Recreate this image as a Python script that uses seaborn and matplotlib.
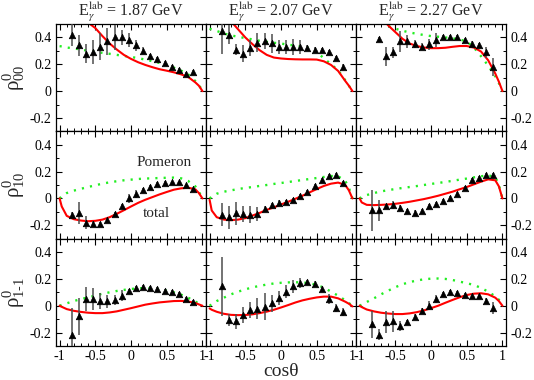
import numpy as np
import pandas as pd
import matplotlib
matplotlib.use("Agg")
import matplotlib.pyplot as plt
from matplotlib.ticker import MultipleLocator, FuncFormatter
import seaborn as sns

# photon energies (columns) and spin density matrix elements (rows)
ENERGIES = ["1.87", "2.07", "2.27"]
ELEMENTS = ["00", "10", "1-1"]
YLABELS = [r"$\mathregular{ρ^{0}_{00}}$", r"$\mathregular{ρ^{0}_{10}}$",
           r"$\mathregular{ρ^{0}_{1\text{-}1}}$"]

# cos(theta) bins of the data points
COS_18 = [-0.83, -0.73, -0.63, -0.53, -0.43, -0.33, -0.23, -0.13, -0.03,
          0.07, 0.17, 0.27, 0.37, 0.47, 0.57, 0.67, 0.77, 0.87]
COS_17 = COS_18[1:]

# data points (value, error)
d00_187 = [0.42, 0.34, 0.28, 0.29, 0.33, 0.37, 0.40, 0.40, 0.38, 0.34, 0.30, 0.26, 0.24, 0.21, 0.18, 0.16, 0.13, 0.14]
e00_187 = [0.087, 0.075, 0.07, 0.09, 0.1, 0.1, 0.09, 0.055, 0.05, 0.04, 0.025, 0.02, 0.015, 0.015, 0.015, 0.015, 0.015, 0.015]
d00_207 = [0.45, 0.42, 0.31, 0.28, 0.32, 0.36, 0.375, 0.355, 0.33, 0.33, 0.33, 0.33, 0.32, 0.31, 0.305, 0.29, 0.245, 0.18]
e00_207 = [0.17, 0.07, 0.04, 0.06, 0.06, 0.07, 0.06, 0.07, 0.05, 0.05, 0.06, 0.05, 0.02, 0.02, 0.015, 0.015, 0.015, 0.02]
d00_227 = [0.39, 0.26, 0.29, 0.37, 0.37, 0.35, 0.33, 0.35, 0.38, 0.40, 0.40, 0.40, 0.38, 0.35, 0.34, 0.29, 0.18]
e00_227 = [0.01, 0.07, 0.04, 0.08, 0.05, 0.03, 0.025, 0.04, 0.05, 0.02, 0.015, 0.015, 0.015, 0.02, 0.02, 0.04, 0.07]

d10_187 = [-0.12, -0.11, -0.18, -0.19, -0.19, -0.16, -0.115, -0.06, 0.0, 0.035, 0.06, 0.085, 0.11, 0.117, 0.122, 0.122, 0.10, 0.07]
e10_187 = [0.02, 0.08, 0.05, 0.02, 0.015, 0.015, 0.015, 0.02, 0.035, 0.03, 0.015, 0.015, 0.01, 0.01, 0.01, 0.01, 0.01, 0.01]
d10_207 = [-0.12, -0.14, -0.11, -0.115, -0.12, -0.115, -0.077, -0.052, -0.032, -0.027, -0.015, 0.015, 0.048, 0.092, 0.134, 0.17, 0.177, 0.117]
e10_207 = [0.085, 0.085, 0.085, 0.06, 0.06, 0.05, 0.02, 0.02, 0.02, 0.015, 0.015, 0.015, 0.015, 0.015, 0.015, 0.015, 0.015, 0.015]
d10_227 = [-0.09, -0.09, -0.06, -0.052, -0.072, -0.097, -0.107, -0.097, -0.06, -0.04, -0.022, 0.0, 0.035, 0.08, 0.14, 0.155, 0.177, 0.175]
e10_227 = [0.15, 0.08, 0.02, 0.03, 0.02, 0.02, 0.02, 0.02, 0.02, 0.015, 0.015, 0.015, 0.015, 0.015, 0.015, 0.015, 0.015, 0.015]

d1m1_187 = [-0.215, -0.08, 0.05, 0.05, 0.037, 0.032, 0.042, 0.075, 0.112, 0.132, 0.142, 0.13, 0.122, 0.112, 0.10, 0.087, 0.05, 0.03]
e1m1_187 = [0.2, 0.14, 0.09, 0.08, 0.06, 0.05, 0.04, 0.04, 0.015, 0.015, 0.015, 0.015, 0.015, 0.015, 0.015, 0.015, 0.015, 0.015]
d1m1_207 = [0.145, -0.105, -0.117, -0.07, -0.032, -0.022, -0.007, 0.017, 0.057, 0.104, 0.144, 0.17, 0.174, 0.162, 0.125, 0.05, -0.02, -0.05]
e1m1_207 = [0.22, 0.045, 0.055, 0.06, 0.06, 0.08, 0.1, 0.065, 0.05, 0.05, 0.05, 0.04, 0.02, 0.02, 0.02, 0.04, 0.03, 0.03]
d1m1_227 = [-0.137, -0.215, -0.12, -0.117, -0.15, -0.124, -0.082, -0.037, 0.0, 0.05, 0.087, 0.1, 0.092, 0.082, 0.075, 0.075, 0.037, -0.02]
e1m1_227 = [0.1, 0.04, 0.08, 0.08, 0.04, 0.02, 0.02, 0.02, 0.035, 0.03, 0.015, 0.015, 0.015, 0.015, 0.015, 0.015, 0.02, 0.045]

# model curves: total (red) and Pomeron (green), read on this cos grid
GRID = [-1.0, -0.97, -0.9, -0.8, -0.7, -0.6, -0.5, -0.4, -0.3, -0.2, -0.1, 0.0,
        0.1, 0.2, 0.3, 0.4, 0.5, 0.6, 0.7, 0.8, 0.9, 0.95, 1.0]

tot00_187 = [0.9, 0.85, 0.78, 0.68, 0.58, 0.51, 0.47, 0.41, 0.355, 0.31, 0.27, 0.24, 0.215, 0.195, 0.178, 0.163, 0.152, 0.14, 0.125, 0.105, 0.065, 0.04, 0.0]
pom00_187 = [0.335, 0.333, 0.325, 0.318, 0.31, 0.30, 0.292, 0.285, 0.278, 0.27, 0.262, 0.255, 0.245, 0.235, 0.223, 0.21, 0.193, 0.175, 0.153, 0.125, 0.075, 0.045, 0.005]
tot00_207 = [0.77, 0.74, 0.68, 0.6, 0.52, 0.46, 0.40, 0.35, 0.305, 0.27, 0.25, 0.243, 0.239, 0.237, 0.236, 0.236, 0.235, 0.222, 0.195, 0.15, 0.075, 0.04, 0.0]
pom00_207 = [0.465, 0.46, 0.448, 0.43, 0.415, 0.405, 0.395, 0.385, 0.375, 0.367, 0.36, 0.355, 0.345, 0.34, 0.333, 0.32, 0.29, 0.245, 0.2, 0.155, 0.08, 0.04, 0.0]
tot00_227 = [0.85, 0.82, 0.74, 0.64, 0.55, 0.49, 0.44, 0.39, 0.355, 0.336, 0.325, 0.32, 0.32, 0.323, 0.33, 0.336, 0.336, 0.325, 0.295, 0.23, 0.13, 0.07, 0.0]
pom00_227 = [0.6, 0.59, 0.565, 0.535, 0.51, 0.485, 0.465, 0.45, 0.437, 0.427, 0.418, 0.41, 0.405, 0.40, 0.393, 0.385, 0.37, 0.325, 0.26, 0.19, 0.11, 0.06, 0.0]

tot10_187 = [0.0, -0.06, -0.13, -0.155, -0.165, -0.17, -0.167, -0.158, -0.14, -0.115, -0.088, -0.06, -0.033, -0.01, 0.01, 0.03, 0.048, 0.065, 0.075, 0.08, 0.068, 0.04, 0.0]
pom10_187 = [0.0, 0.015, 0.04, 0.058, 0.072, 0.085, 0.098, 0.11, 0.12, 0.128, 0.135, 0.14, 0.145, 0.148, 0.15, 0.152, 0.154, 0.155, 0.15, 0.13, 0.09, 0.05, 0.0]
tot10_207 = [-0.01, -0.09, -0.14, -0.158, -0.162, -0.158, -0.147, -0.128, -0.108, -0.085, -0.067, -0.045, -0.025, -0.003, 0.02, 0.045, 0.07, 0.093, 0.11, 0.118, 0.1, 0.06, 0.0]
pom10_207 = [0.0, 0.012, 0.035, 0.05, 0.06, 0.07, 0.078, 0.085, 0.093, 0.10, 0.108, 0.115, 0.122, 0.13, 0.137, 0.145, 0.152, 0.16, 0.167, 0.165, 0.13, 0.08, 0.0]
tot10_227 = [0.0, -0.03, -0.048, -0.05, -0.048, -0.045, -0.04, -0.033, -0.025, -0.015, -0.005, 0.007, 0.02, 0.035, 0.05, 0.068, 0.085, 0.105, 0.125, 0.142, 0.135, 0.09, 0.0]
pom10_227 = [0.0, 0.01, 0.025, 0.04, 0.052, 0.062, 0.07, 0.078, 0.085, 0.092, 0.1, 0.108, 0.115, 0.123, 0.131, 0.14, 0.148, 0.157, 0.165, 0.172, 0.16, 0.1, 0.0]

tot1m1_187 = [0.0, -0.008, -0.025, -0.038, -0.046, -0.052, -0.055, -0.055, -0.05, -0.042, -0.03, -0.018, -0.005, 0.008, 0.017, 0.025, 0.03, 0.035, 0.036, 0.032, 0.02, 0.01, 0.0]
pom1m1_187 = [0.0, 0.006, 0.018, 0.035, 0.05, 0.062, 0.076, 0.09, 0.1, 0.11, 0.118, 0.125, 0.13, 0.132, 0.13, 0.123, 0.112, 0.1, 0.083, 0.06, 0.032, 0.015, 0.0]
tot1m1_207 = [-0.02, -0.03, -0.045, -0.06, -0.068, -0.07, -0.069, -0.064, -0.055, -0.044, -0.03, -0.013, 0.005, 0.024, 0.04, 0.052, 0.062, 0.068, 0.068, 0.055, 0.03, 0.015, -0.005]
pom1m1_207 = [0.0, 0.01, 0.035, 0.06, 0.085, 0.105, 0.122, 0.137, 0.148, 0.158, 0.166, 0.171, 0.174, 0.175, 0.174, 0.168, 0.155, 0.135, 0.105, 0.075, 0.04, 0.02, 0.0]
tot1m1_227 = [0.0, -0.01, -0.028, -0.042, -0.052, -0.058, -0.062, -0.062, -0.057, -0.048, -0.035, -0.018, 0.0, 0.022, 0.043, 0.063, 0.08, 0.09, 0.093, 0.085, 0.06, 0.035, 0.0]
pom1m1_227 = [0.0, 0.008, 0.028, 0.055, 0.085, 0.112, 0.138, 0.16, 0.176, 0.188, 0.197, 0.202, 0.203, 0.2, 0.192, 0.18, 0.168, 0.155, 0.133, 0.105, 0.07, 0.045, 0.02]

PANELS = [
    [(COS_18, d00_187, e00_187, tot00_187, pom00_187),
     (COS_18, d00_207, e00_207, tot00_207, pom00_207),
     (COS_17, d00_227, e00_227, tot00_227, pom00_227)],
    [(COS_18, d10_187, e10_187, tot10_187, pom10_187),
     (COS_18, d10_207, e10_207, tot10_207, pom10_207),
     (COS_18, d10_227, e10_227, tot10_227, pom10_227)],
    [(COS_18, d1m1_187, e1m1_187, tot1m1_187, pom1m1_187),
     (COS_18, d1m1_207, e1m1_207, tot1m1_207, pom1m1_207),
     (COS_18, d1m1_227, e1m1_227, tot1m1_227, pom1m1_227)],
]

sns.set_theme(style="ticks")
plt.rcParams["font.family"] = ["Liberation Serif", "DejaVu Serif"]
plt.rcParams["mathtext.fontset"] = "stix"
plt.rcParams["axes.unicode_minus"] = False

fig, axes = plt.subplots(3, 3, figsize=(5.34, 3.80), dpi=100)
fig.subplots_adjust(left=0.1049, right=0.9476, top=0.9368, bottom=0.0895,
                    wspace=0, hspace=0)

fmt = FuncFormatter(lambda v, p: "%g" % round(v, 2))

for r in range(3):
    for c in range(3):
        ax = axes[r][c]
        cos, vals, errs, tot, pom = PANELS[r][c]
        curves = pd.DataFrame({"cos": GRID, "total": tot, "pomeron": pom})
        points = pd.DataFrame({"cos": cos, "rho": vals, "err": errs})

        sns.lineplot(data=curves, x="cos", y="pomeron", ax=ax, color="#22ee22",
                     sort=False, estimator=None, lw=1.7,
                     linestyle=(0, (0.9, 2.6)), dash_capstyle="butt")
        sns.lineplot(data=curves, x="cos", y="total", ax=ax, color="#ff0000",
                     sort=False, estimator=None, lw=1.5)
        ax.errorbar(points["cos"], points["rho"], yerr=points["err"], fmt="none",
                    ecolor="0.3", elinewidth=1.1, capsize=0, zorder=3)
        sns.scatterplot(data=points, x="cos", y="rho", ax=ax, marker="^", s=22,
                        color="black", edgecolor="black", linewidth=0.5, zorder=4)

        ax.set_xlim(-1.05, 1.05)
        ax.set_ylim(-0.3, 0.5)
        ax.xaxis.set_major_locator(MultipleLocator(0.5))
        ax.xaxis.set_minor_locator(MultipleLocator(0.1))
        ax.yaxis.set_major_locator(MultipleLocator(0.2))
        ax.yaxis.set_minor_locator(MultipleLocator(0.1))
        ax.xaxis.set_major_formatter(fmt)
        ax.yaxis.set_major_formatter(fmt)
        ax.tick_params(which="both", direction="in", top=True, right=True,
                       labelsize=10, pad=3, colors="black")
        ax.tick_params(which="major", length=4, width=0.8)
        ax.tick_params(which="minor", length=2.2, width=0.7)
        ax.tick_params(axis="x", labelbottom=(r == 2))
        ax.tick_params(axis="y", labelleft=(c == 0), labelright=(c == 2))
        for sp in ax.spines.values():
            sp.set_color("black")
            sp.set_linewidth(0.9)
        ax.set_xlabel("")
        ax.set_ylabel(YLABELS[r] if c == 0 else "", fontsize=15, labelpad=2)
        if r == 0:
            ax.set_title(r"E$_{\gamma}^{\mathrm{lab}}$ = " + ENERGIES[c] + " GeV",
                         fontsize=11.5, pad=4)

axes[1][0].text(0.08, 0.24, "Pomeron", fontsize=11)
axes[1][0].text(0.17, -0.11, "total", fontsize=11, va="center")
fig.text(281 / 534, 1 - 371 / 380, "cosθ", fontsize=14, ha="center", va="center")

fig.savefig("out.png", dpi=100)
